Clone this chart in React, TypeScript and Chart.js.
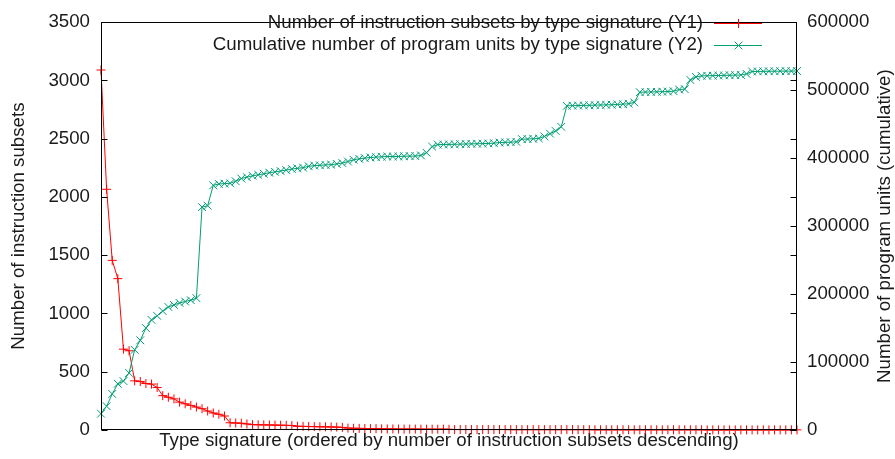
import React, { useEffect, useRef } from "react";
import { Chart, registerables } from "chart.js";

Chart.register(...registerables);

// Y1: number of instruction subsets per type signature (sorted descending)
const subsetCounts: number[] = [
  3090, 2066, 1456, 1299, 694, 680, 422, 416, 399, 394,
  365, 295, 281, 267, 239, 225, 211, 197, 183, 163,
  146, 135, 120, 62, 60, 58, 52, 46, 45, 44,
  43, 42, 41, 40, 38, 32, 31, 30, 29, 28,
  27, 26, 25, 22, 16, 15, 14, 13, 12, 12,
  10, 9, 9, 8, 8, 8, 8, 7, 7, 7,
  7, 7, 6, 4, 4, 4, 4, 4, 4, 4,
  4, 4, 4, 3, 3, 3, 3, 3, 3, 3,
  3, 3, 3, 3, 3, 3, 3, 3, 2, 2,
  2, 2, 2, 2, 2, 2, 2, 2, 2, 2,
  2, 2, 2, 2, 2, 2, 2, 2, 1, 1,
  1, 1, 1, 1, 1, 1, 1, 1, 1, 1,
  1, 1, 1, 1, 1,
];

// Y2: cumulative number of program units
const cumulativeUnits: number[] = [
  24000, 35000, 53000, 68000, 72000, 84000, 118000, 132000, 150000, 162000,
  168000, 175000, 181000, 184000, 187000, 189000, 191000, 194000, 328000, 330000,
  360000, 362000, 362500, 363000, 366000, 370000, 372000, 374000, 375500, 377000,
  378500, 379800, 381000, 382500, 384000, 385000, 386000, 388000, 389000, 389500,
  390000, 390400, 391500, 392800, 395000, 397600, 399000, 400000, 401000, 401500,
  402000, 402400, 402400, 402500, 402700, 403000, 403000, 404000, 408000, 417000,
  420000, 420000, 420200, 420400, 420600, 420800, 421000, 421200, 421400, 421600,
  422000, 423000, 423200, 423500, 424000, 428000, 428000, 428500, 429000, 432000,
  436000, 440000, 446000, 477000, 477200, 477400, 477600, 477800, 478000, 478200,
  478400, 478600, 479000, 479500, 480000, 482000, 497000, 497200, 497400, 497600,
  497800, 498000, 498500, 501000, 501500, 515000, 519500, 521000, 521200, 521400,
  521600, 521800, 522000, 522200, 522400, 524000, 527500, 527600, 527700, 527800,
  527900, 528000, 528000, 528100, 528200,
];

const categories: string[] = subsetCounts.map((_, i) => String(i + 1));

const y1Ticks: number[] = [0, 500, 1000, 1500, 2000, 2500, 3000, 3500];
const y2Ticks: number[] = [0, 100000, 200000, 300000, 400000, 500000, 600000];

const seriesLabels: string[] = [
  "Number of instruction subsets by type signature (Y1)",
  "Cumulative number of program units by type signature (Y2)",
];

const xTitle = "Type signature (ordered by number of instruction subsets descending)";
const y1Title = "Number of instruction subsets";
const y2Title = "Number of program units (cumulative)";

const RED = "#ff0000";
const GREEN = "#009e73";
const TEXT = "#1a1a1a";
const FONT = "'Liberation Sans', Arial, sans-serif";
const FS = 18.7;
const PR_RED = 4.5;
const PR_GREEN = 5.5;

const gnuplotDecor = {
  id: "gnuplotDecor",
  afterDraw(chart: any) {
    const { ctx, chartArea } = chart;
    const { left, right, top, bottom } = chartArea;
    const y = chart.scales.y;
    const y2 = chart.scales.y2;
    ctx.save();
    ctx.strokeStyle = "#000";
    ctx.lineWidth = 1;
    const L = Math.round(left) + 0.5;
    const R = Math.round(right) - 0.5;
    const T = Math.round(top) + 0.5;
    const B = Math.round(bottom) - 0.5;
    ctx.strokeRect(L, T, R - L, B - T);
    const tl = 6;
    ctx.beginPath();
    y1Ticks.forEach((v) => {
      const py = Math.round(y.getPixelForValue(v)) + 0.5;
      ctx.moveTo(L, py);
      ctx.lineTo(L + tl, py);
      ctx.moveTo(R, py);
      ctx.lineTo(R - tl, py);
    });
    y2Ticks.forEach((v) => {
      const py = Math.round(y2.getPixelForValue(v)) + 0.5;
      ctx.moveTo(R, py);
      ctx.lineTo(R - tl, py);
    });
    ctx.stroke();

    // legend (key) in top-right corner
    ctx.font = `${FS}px ${FONT}`;
    ctx.textAlign = "right";
    ctx.textBaseline = "middle";
    const rows = [23, 45];
    const textRight = 703;
    const s0 = 714;
    const s1 = 762;
    chart.data.datasets.forEach((ds: any, i: number) => {
      const ry = rows[i];
      ctx.fillStyle = TEXT;
      ctx.fillText(seriesLabels[i], textRight, ry);
      ctx.strokeStyle = ds.borderColor;
      ctx.lineWidth = 1;
      ctx.beginPath();
      ctx.moveTo(s0, ry + 0.5);
      ctx.lineTo(s1, ry + 0.5);
      const cx = Math.round((s0 + s1) / 2) + 0.5;
      if (i === 0) {
        const r = PR_RED;
        ctx.moveTo(cx - r, ry + 0.5);
        ctx.lineTo(cx + r, ry + 0.5);
        ctx.moveTo(cx, ry + 0.5 - r);
        ctx.lineTo(cx, ry + 0.5 + r);
      } else {
        const d = PR_GREEN * Math.SQRT1_2;
        ctx.moveTo(cx - d, ry + 0.5 - d);
        ctx.lineTo(cx + d, ry + 0.5 + d);
        ctx.moveTo(cx - d, ry + 0.5 + d);
        ctx.lineTo(cx + d, ry + 0.5 - d);
      }
      ctx.stroke();
    });

    // y2 title, reading bottom-to-top like gnuplot
    ctx.fillStyle = TEXT;
    ctx.textAlign = "center";
    ctx.textBaseline = "middle";
    ctx.translate(885, (top + bottom) / 2);
    ctx.rotate(-Math.PI / 2);
    ctx.fillText(y2Title, 0, 0);
    ctx.restore();
  },
};

export default function App() {
  const canvasRef = useRef<HTMLCanvasElement | null>(null);

  useEffect(() => {
    if (!canvasRef.current) return;
    const chart = new Chart(canvasRef.current, {
      type: "line",
      data: {
        labels: categories,
        datasets: [
          {
            label: seriesLabels[0],
            data: subsetCounts,
            yAxisID: "y",
            borderColor: RED,
            backgroundColor: RED,
            borderWidth: 1,
            pointStyle: "cross",
            pointRadius: PR_RED,
            pointBorderWidth: 1,
            pointBorderColor: RED,
            tension: 0,
            clip: false as any,
            order: 2,
          },
          {
            label: seriesLabels[1],
            data: cumulativeUnits,
            yAxisID: "y2",
            borderColor: GREEN,
            backgroundColor: GREEN,
            borderWidth: 1,
            pointStyle: "crossRot",
            pointRadius: PR_GREEN,
            pointBorderWidth: 1,
            pointBorderColor: GREEN,
            tension: 0,
            clip: false as any,
            order: 1,
          },
        ],
      },
      options: {
        animation: false,
        responsive: false,
        maintainAspectRatio: false,
        layout: { padding: { top: 15, left: 0, right: 0, bottom: 0 } },
        plugins: {
          legend: { display: false },
          tooltip: { enabled: false },
        },
        scales: {
          x: {
            type: "category",
            offset: false,
            grid: { display: false, drawTicks: false },
            border: { display: false },
            ticks: { display: false },
            title: {
              display: true,
              text: xTitle,
              color: TEXT,
              font: { family: FONT, size: FS },
              padding: { top: 0, bottom: 7 },
            },
            afterFit: (s: any) => {
              s.height = 29;
            },
          },
          y: {
            position: "left",
            min: 0,
            max: 3500,
            afterBuildTicks: (s: any) => {
              s.ticks = y1Ticks.map((v) => ({ value: v }));
            },
            grid: { display: false, drawTicks: false },
            border: { display: false },
            ticks: {
              color: TEXT,
              font: { family: FONT, size: FS },
              padding: 11,
              callback: (v: any) => String(v),
            },
            title: {
              display: true,
              text: y1Title,
              color: TEXT,
              font: { family: FONT, size: FS },
              padding: { top: 7.5, bottom: 0 },
            },
            afterFit: (s: any) => {
              s.width = 101;
            },
          },
          y2: {
            position: "right",
            min: 0,
            max: 600000,
            afterBuildTicks: (s: any) => {
              s.ticks = y2Ticks.map((v) => ({ value: v }));
            },
            grid: { display: false, drawTicks: false },
            border: { display: false },
            ticks: {
              color: TEXT,
              font: { family: FONT, size: FS },
              padding: 10,
              callback: (v: any) => String(v),
            },
            afterFit: (s: any) => {
              s.width = 98;
            },
          },
        },
      },
      plugins: [gnuplotDecor],
    });
    return () => chart.destroy();
  }, []);

  return (
    <div style={{ position: "fixed", left: 0, top: 0, width: 895, height: 459, background: "#fff" }}>
      <canvas ref={canvasRef} width={895} height={459} style={{ width: 895, height: 459, display: "block" }} />
    </div>
  );
}
